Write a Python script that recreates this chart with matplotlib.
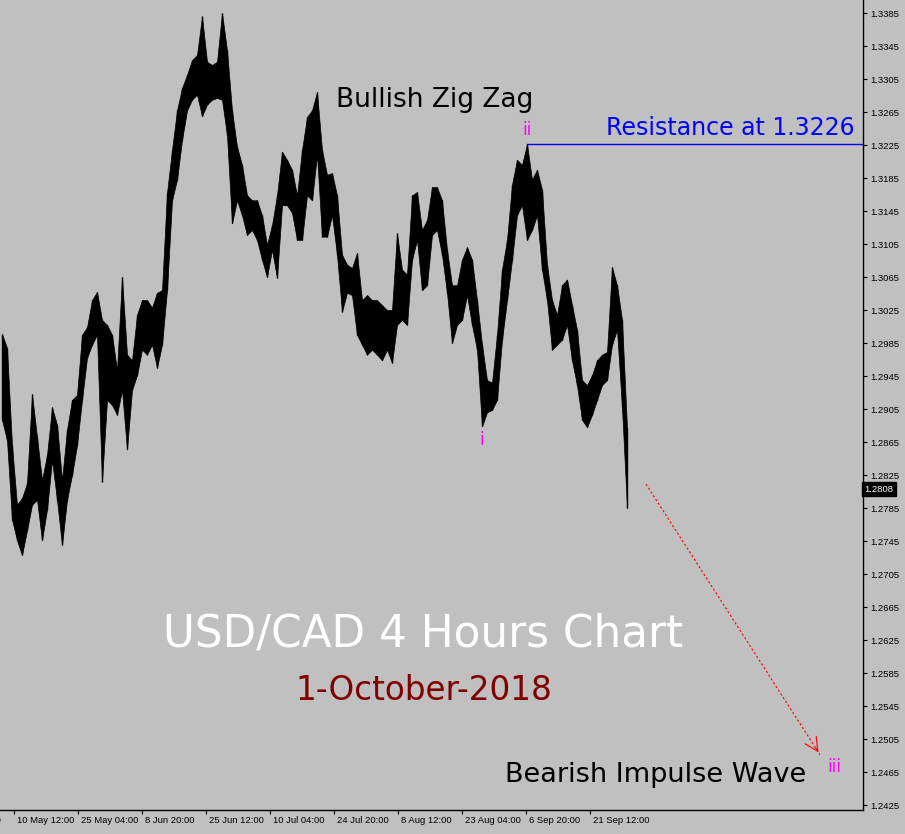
import numpy as np
import matplotlib.pyplot as plt
from matplotlib.transforms import ScaledTranslation, blended_transform_factory

# USD/CAD 4H bars: one high/low pair per block of 5 bars
bar_step = 5
highs = [1.2996, 1.2979, 1.2861, 1.2789, 1.2797, 1.2815, 1.2923, 1.2871, 1.2819, 1.2849,
         1.2907, 1.2886, 1.2819, 1.2880, 1.2916, 1.2922, 1.2995, 1.3004, 1.3037, 1.3047,
         1.3013, 1.3007, 1.2995, 1.2952, 1.3065, 1.2971, 1.2964, 1.3019, 1.3037, 1.3037,
         1.3028, 1.3046, 1.3049, 1.3167, 1.3219, 1.3267, 1.3294, 1.3310, 1.3328, 1.3334,
         1.3381, 1.3326, 1.3322, 1.3326, 1.3385, 1.3340, 1.3267, 1.3223, 1.3201, 1.3164,
         1.3158, 1.3158, 1.3140, 1.3104, 1.3128, 1.3164, 1.3217, 1.3207, 1.3195, 1.3164,
         1.3219, 1.3259, 1.3267, 1.3289, 1.3219, 1.3189, 1.3191, 1.3164, 1.3092, 1.3080,
         1.3076, 1.3094, 1.3037, 1.3043, 1.3037, 1.3037, 1.3031, 1.3025, 1.3025, 1.3118,
         1.3074, 1.3068, 1.3164, 1.3168, 1.3122, 1.3134, 1.3174, 1.3174, 1.3158, 1.3098,
         1.3055, 1.3055, 1.3086, 1.3101, 1.3086, 1.3037, 1.2983, 1.2940, 1.2937, 1.2995,
         1.3074, 1.3110, 1.3177, 1.3207, 1.3201, 1.3226, 1.3183, 1.3195, 1.3171, 1.3080,
         1.3037, 1.3019, 1.3055, 1.3062, 1.3031, 1.3001, 1.2940, 1.2934, 1.2946, 1.2964,
         1.2971, 1.2974, 1.3077, 1.3055, 1.3013, 1.2882]
lows = [1.2892, 1.2867, 1.2771, 1.2746, 1.2728, 1.2758, 1.2789, 1.2795, 1.2746, 1.2783,
        1.2843, 1.2795, 1.2740, 1.2795, 1.2825, 1.2861, 1.2916, 1.2967, 1.2983, 1.2995,
        1.2817, 1.2916, 1.2910, 1.2898, 1.2928, 1.2856, 1.2928, 1.2946, 1.2977, 1.2971,
        1.2983, 1.2955, 1.2983, 1.3049, 1.3158, 1.3183, 1.3231, 1.3267, 1.3280, 1.3286,
        1.3260, 1.3274, 1.3280, 1.3282, 1.3280, 1.3237, 1.3130, 1.3158, 1.3140, 1.3116,
        1.3122, 1.3110, 1.3086, 1.3065, 1.3098, 1.3064, 1.3152, 1.3152, 1.3143, 1.3110,
        1.3110, 1.3164, 1.3158, 1.3213, 1.3114, 1.3114, 1.3140, 1.3092, 1.3023, 1.3046,
        1.3043, 1.2995, 1.2983, 1.2971, 1.2977, 1.2971, 1.2964, 1.2977, 1.2961, 1.3007,
        1.3013, 1.3007, 1.3086, 1.3110, 1.3049, 1.3055, 1.3116, 1.3122, 1.3092, 1.3046,
        1.2985, 1.3007, 1.3013, 1.3043, 1.3007, 1.2977, 1.2884, 1.2901, 1.2904, 1.2916,
        1.2989, 1.3037, 1.3086, 1.3140, 1.3152, 1.3110, 1.3122, 1.3140, 1.3074, 1.3037,
        1.2977, 1.2983, 1.2989, 1.3007, 1.2964, 1.2934, 1.2892, 1.2883, 1.2898, 1.2916,
        1.2934, 1.2940, 1.2983, 1.3001, 1.2907, 1.2785]
last_price = 1.2808
resistance = 1.3226

# x axis: bar index (one 4H bar per pixel), a date label every 64 bars
date_labels = ['10 May 12:00', '25 May 04:00', '8 Jun 20:00', '25 Jun 12:00', '10 Jul 04:00',
               '24 Jul 20:00', '8 Aug 12:00', '23 Aug 04:00', '6 Sep 20:00', '21 Sep 12:00']
first_tick = 14
tick_step = 64

price_ticks = np.round(np.arange(1.2425, 1.3390, 0.004), 4)

bg = '#c0c0c0'
fig = plt.figure(figsize=(9.05, 8.34), dpi=100, facecolor=bg)
ax = fig.add_axes([0, 0.0288, 863 / 905, 1 - 0.0288])
ax.set_facecolor(bg)

xs = np.arange(len(highs)) * bar_step + 2
ax.fill_between(xs, lows, highs, color='black', lw=0.5)
ax.vlines(xs, lows, highs, color='black', lw=1.0)

ax.set_xlim(0, 863)
ax.set_ylim(1.2419, 1.34008)

for s in ['left', 'top']:
    ax.spines[s].set_visible(False)
for s in ['right', 'bottom']:
    ax.spines[s].set_color('black')
    ax.spines[s].set_linewidth(1)

ax.yaxis.tick_right()
ax.set_yticks(price_ticks)
ax.set_yticklabels([f'{v:.4f}' for v in price_ticks], fontfamily='Liberation Sans')
ax.tick_params(axis='y', direction='out', length=3, pad=2, labelsize=6.8)

tick_pos = [first_tick + tick_step * k for k in range(len(date_labels))]
ax.set_xticks(tick_pos)
ax.set_xticklabels(date_labels, ha='left', fontfamily='Liberation Sans')
ax.tick_params(axis='x', direction='out', length=3, pad=1, labelsize=6.8)
shift = ScaledTranslation(2 / 72, 0, fig.dpi_scale_trans)
for lab in ax.get_xticklabels():
    lab.set_transform(lab.get_transform() + shift)
# the label cut off at the left edge
ax.text(first_tick - tick_step, 1.2419, '25 Apr 20:00', ha='left', va='top', fontsize=6.8,
        fontfamily='Liberation Sans', transform=ax.transData + ScaledTranslation(-2 / 72, -4 / 72, fig.dpi_scale_trans),
        clip_on=False)

# wave labels
i_idx = 90 + int(np.argmin(lows[90:100]))
ii_idx = 100 + int(np.argmax(highs[100:110]))
ax.annotate('i', (xs[i_idx], lows[i_idx]), xytext=(0, -3), textcoords='offset points',
            ha='center', va='top', color='#ff00ff', fontsize=12)
ax.annotate('ii', (xs[ii_idx], highs[ii_idx]), xytext=(0, 4), textcoords='offset points',
            ha='center', va='bottom', color='#ff00ff', fontsize=12)
ax.text(834, 1.2471, 'iii', ha='center', va='center', color='#ff00ff', fontsize=12)

ax.plot([xs[ii_idx], 863], [resistance, resistance], color='#0000ff', lw=1)
ax.text(855, 1.3246, 'Resistance at 1.3226', ha='right', va='center', color='#0000ff', fontsize=17)
ax.text(336, 1.3280, 'Bullish Zig Zag', ha='left', va='center', color='black', fontsize=19)
ax.text(505, 1.2461, 'Bearish Impulse Wave', ha='left', va='center', color='black', fontsize=19.5)
ax.text(423, 1.2632, 'USD/CAD 4 Hours Chart', ha='center', va='center', color='white', fontsize=31.5)
ax.text(424, 1.2564, '1-October-2018', ha='center', va='center', color='#800000', fontsize=23.5)

# projected move
arrow_start = (646, 1.2814)
arrow_end = (820, 1.2486)
ax.plot([arrow_start[0], arrow_end[0]], [arrow_start[1], arrow_end[1]], color='red', lw=0.8,
        linestyle=(0, (2, 2)))
ax.annotate('', xy=arrow_end, xytext=(arrow_end[0] - 6, arrow_end[1] + 0.00113),
            arrowprops=dict(arrowstyle='->', color='red', lw=0.8, mutation_scale=24))

# current price tag
tr = blended_transform_factory(ax.transAxes, ax.transData)
ax.text(1.002, last_price, '1.2808', transform=tr, ha='left', va='center', color='white',
        fontsize=6.8, fontfamily='Liberation Sans',
        bbox=dict(boxstyle='square,pad=0.25', fc='black', ec='black'))

fig.savefig('out.png', dpi=100, facecolor=bg)
